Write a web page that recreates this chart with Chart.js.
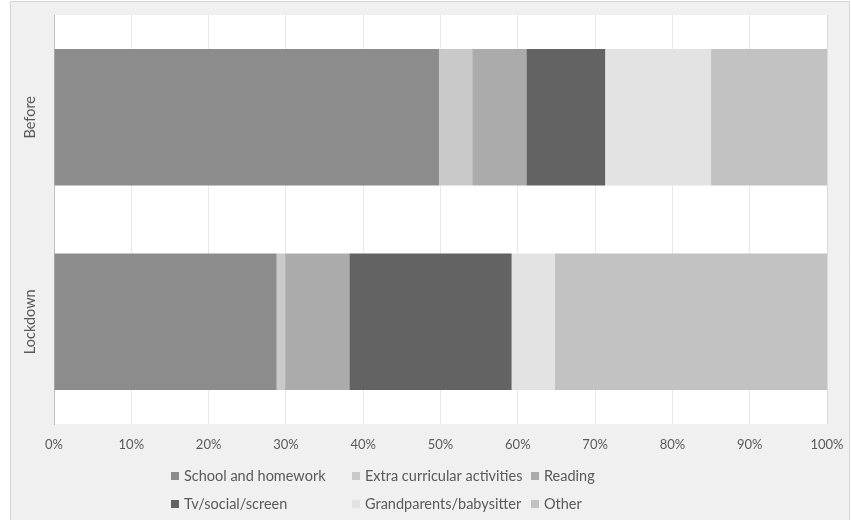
<!DOCTYPE html>
<html>
<head>
<meta charset="utf-8">
<script src="https://cdn.jsdelivr.net/npm/chart.js@4/dist/chart.umd.min.js"></script>
<style>
  body { margin: 0; background: #fff; }
  #wrap { position: absolute; left: 0; top: 0; width: 851px; height: 520px; }
</style>
</head>
<body>
<div id="wrap"><canvas id="myChart" width="851" height="520"></canvas></div>
<script>
var periods = ["Before", "Lockdown"];
var activities = ["School and homework", "Extra curricular activities", "Reading",
                  "Tv/social/screen", "Grandparents/babysitter", "Other"];
var colours = ["#8c8c8c", "#c9c9c9", "#ababab", "#636363", "#e3e3e3", "#c2c2c2"];
// percent of time, [Before, Lockdown]
var school = [49.8, 28.8];
var extra = [4.3, 1.1];
var reading = [7.0, 8.3];
var screen = [10.2, 21.0];
var grandparents = [13.7, 5.6];
var other = [15.0, 35.2];
var xTicks = [0, 10, 20, 30, 40, 50, 60, 70, 80, 90, 100];

var series = [school, extra, reading, screen, grandparents, other];
var textColour = "#595959";
var font = "Lato, 'Open Sans', sans-serif";

var frame = {
  id: "frame",
  beforeDraw: function (chart) {
    var ctx = chart.ctx;
    var a = chart.chartArea;
    ctx.save();
    ctx.fillStyle = "#ffffff";
    ctx.fillRect(0, 0, chart.width, chart.height);
    ctx.fillStyle = "#f0f0f0";
    ctx.fillRect(10, 1, 839, 519);
    ctx.strokeStyle = "#d4d4d4";
    ctx.lineWidth = 1;
    ctx.beginPath();
    ctx.moveTo(10.5, 520);
    ctx.lineTo(10.5, 1.5);
    ctx.lineTo(849.5, 1.5);
    ctx.lineTo(849.5, 520);
    ctx.stroke();
    ctx.fillStyle = "#ffffff";
    ctx.fillRect(a.left, a.top, a.right - a.left, a.bottom - a.top);
    ctx.restore();
  },
  afterDraw: function (chart) {
    var ctx = chart.ctx;
    var yScale = chart.scales.y;
    ctx.save();
    ctx.fillStyle = textColour;
    ctx.font = "14.5px " + font;
    ctx.textAlign = "center";
    ctx.textBaseline = "middle";
    periods.forEach(function (p, i) {
      ctx.save();
      ctx.translate(30, yScale.getPixelForValue(i));
      ctx.rotate(-Math.PI / 2);
      ctx.fillText(p, 0, 0);
      ctx.restore();
    });
    // legend, 3 columns x 2 rows
    var colX = [171, 352, 531];
    var rowY = [476, 504];
    ctx.textAlign = "left";
    chart.data.datasets.forEach(function (ds, i) {
      var x = colX[i % 3];
      var y = rowY[Math.floor(i / 3)];
      ctx.fillStyle = ds.backgroundColor;
      ctx.fillRect(x, y - 4, 8, 8);
      ctx.fillStyle = textColour;
      ctx.fillText(ds.label, x + 13, y);
    });
    ctx.restore();
  }
};

var ctx = document.getElementById("myChart").getContext("2d");
var myChart = new Chart(ctx, {
  type: "bar",
  data: {
    labels: periods,
    datasets: activities.map(function (name, i) {
      return {
        label: name,
        data: series[i],
        backgroundColor: colours[i],
        borderWidth: 0,
        barPercentage: 0.667,
        categoryPercentage: 1
      };
    })
  },
  options: {
    indexAxis: "y",
    responsive: false,
    animation: false,
    layout: { padding: { top: 15, right: 24, left: 0, bottom: 0 } },
    plugins: { legend: { display: false }, tooltip: { enabled: false } },
    scales: {
      x: {
        stacked: true,
        min: 0,
        max: 100,
        z: 1,
        afterBuildTicks: function (scale) {
          scale.ticks = xTicks.map(function (v) { return { value: v }; });
        },
        afterFit: function (scale) {
          scale.height = 96;
          scale.paddingLeft = 0;
          scale.paddingRight = 0;
        },
        grid: { color: "rgba(0,0,0,0.09)", drawTicks: false },
        border: { display: false },
        ticks: {
          color: textColour,
          padding: 13,
          font: { family: font, size: 13 },
          maxRotation: 0,
          callback: function (v) { return v + "%"; }
        }
      },
      y: {
        stacked: true,
        afterFit: function (scale) { scale.width = 54; },
        grid: { display: false },
        border: { display: true, color: "#bfbfbf" },
        ticks: { display: false }
      }
    }
  },
  plugins: [frame]
});
</script>
</body>
</html>
